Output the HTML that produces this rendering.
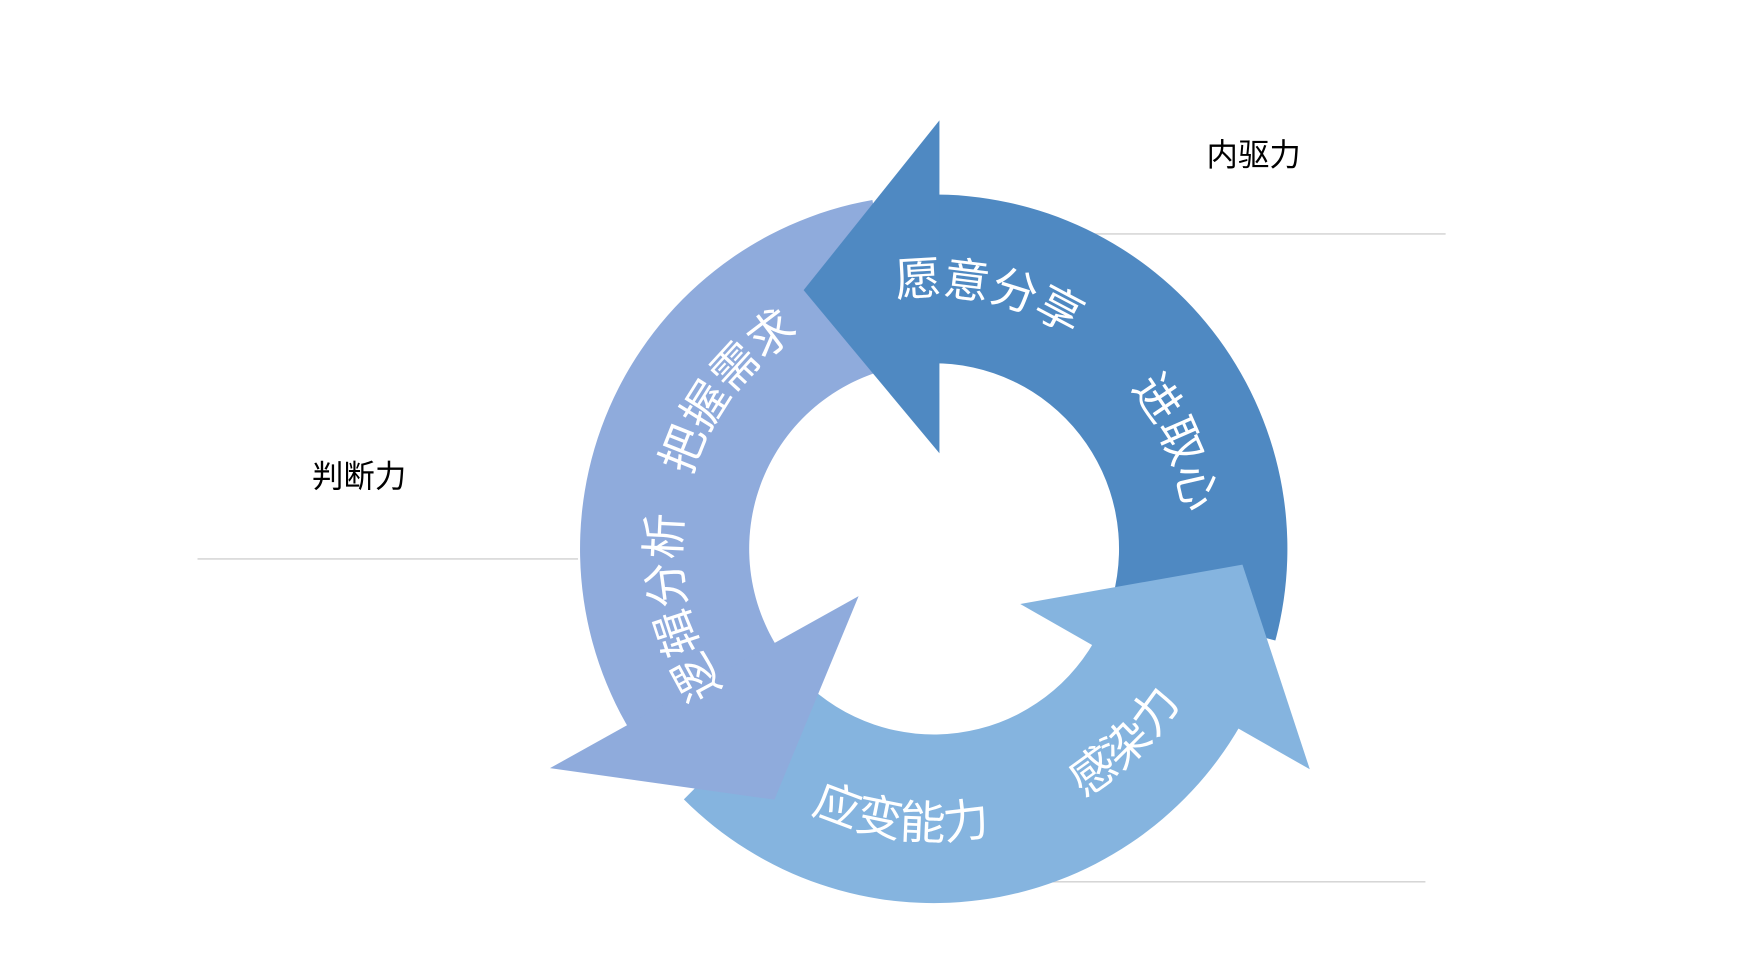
<!DOCTYPE html>
<html><head><meta charset="utf-8"><style>
html,body{margin:0;padding:0;background:#fff;width:1761px;height:974px;overflow:hidden}
svg{display:block}
</style></head><body>
<svg width="1761" height="974" viewBox="0 0 1569 866" preserveAspectRatio="none" xmlns="http://www.w3.org/2000/svg">
<defs>
<path id="cw" d="M832,714 A226,226 0 1 1 832,262 A226,226 0 1 1 832,714"/>
<path id="ccw" d="M574,488 A258,258 0 1 0 1090,488 A258,258 0 1 0 574,488"/>
</defs>
<g stroke="#d0d0d0" stroke-width="1.2">
<line x1="975" y1="208" x2="1288" y2="208"/>
<line x1="176" y1="497" x2="515" y2="497"/>
<line x1="930" y1="784" x2="1270" y2="784"/>
</g>
<path fill="#4F89C2" d="M1136.3,569.5 A315,315 0 0 0 826.5,173 L829.1,323 A165,165 0 0 1 991.4,530.7 Z"/>
<path fill="#85B4DF" d="M609.3,710.7 A315,315 0 0 0 1104.8,645.5 L974.9,570.5 A165,165 0 0 1 715.3,604.7 Z"/>
<path fill="#8FABDC" d="M777.3,177.8 A315,315 0 0 0 567.6,659.6 L694.2,577.9 A165,165 0 0 1 803.4,325.5 Z"/>
<polygon fill="#4F89C2" points="837,107 716,258 837,403"/>
<polygon fill="#85B4DF" points="909,537 1107,502 1167,684"/>
<polygon fill="#8FABDC" points="490,683 690,711 765,530"/>
<g fill="#fff" font-family="Liberation Sans, Noto Sans CJK SC, sans-serif" font-size="41">
<text><textPath href="#cw" startOffset="222">逻辑分析</textPath></text>
<text><textPath href="#cw" startOffset="420">把握需求</textPath></text>
<text><textPath href="#cw" startOffset="676">愿意分享</textPath></text>
<text><textPath href="#cw" startOffset="910">进取心</textPath></text>
<text><textPath href="#ccw" startOffset="292">应变能力</textPath></text>
<text><textPath href="#ccw" startOffset="545">感染力</textPath></text>
</g>
<g fill="#000" font-family="Liberation Sans, Noto Sans CJK SC, sans-serif" font-size="28">
<text x="1075" y="147">内驱力</text>
<text x="278" y="433">判断力</text>
</g>
</svg>
</body></html>
